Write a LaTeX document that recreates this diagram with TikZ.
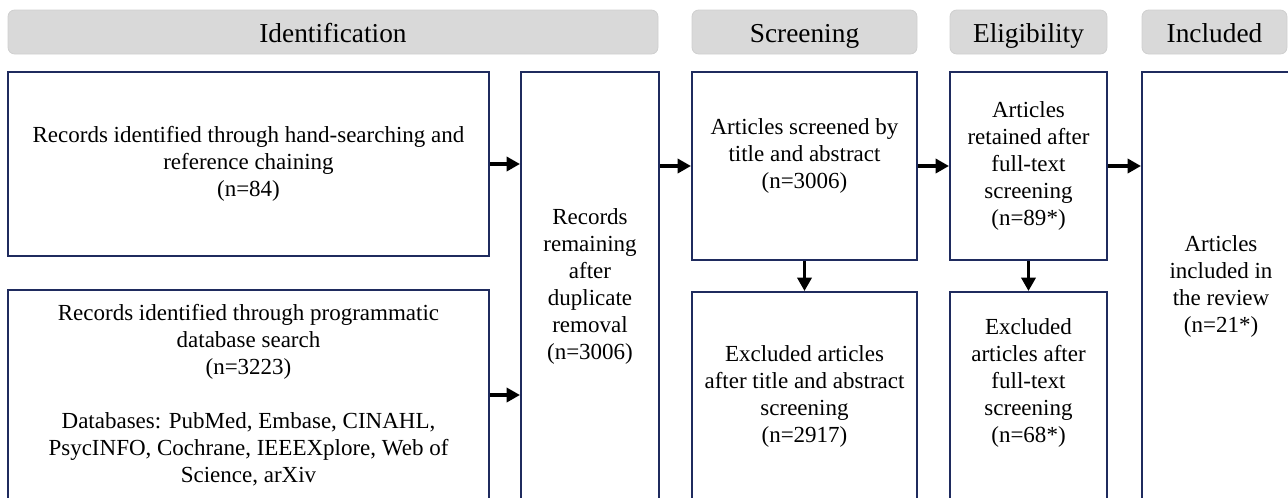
\documentclass[tikz,border=0pt]{standalone}
\usepackage{fontspec}
\setmainfont{Liberation Serif}
\usetikzlibrary{arrows.meta}
\definecolor{navy}{HTML}{1F2B5E}
\definecolor{hdrfill}{HTML}{D9D9D9}
\definecolor{hdrline}{HTML}{CFCFCF}
\newcommand{\bodyfnt}{\fontsize{17.25}{20.25}\selectfont}
\newcommand{\hdrfnt}{\fontsize{20.5}{24}\selectfont}
\begin{document}
\begin{tikzpicture}[x=0.75pt,y=-0.75pt,
  box/.style={draw=navy, line width=1.5pt, inner sep=0pt, align=center, font=\bodyfnt, fill=white},
  txt/.style={inner sep=0pt, align=center, font=\bodyfnt},
  hdr/.style={draw=hdrline, fill=hdrfill, line width=0.6pt, rounded corners=5pt, inner sep=0pt, font=\hdrfnt, minimum height=33pt, text height=15.5pt, text depth=0pt},
  flow/.style={line width=2.7pt, -{Triangle[length=10pt,width=10.5pt]}}
]
\useasboundingbox (0,0) rectangle (1288,497);
\clip (0,0) rectangle (1288,497);
% headers
\node[hdr, minimum width=487.5pt] (h1) at (333,32) {Identification};
\node[hdr, minimum width=168.75pt] (h2) at (804.5,32) {Screening};
\node[hdr, minimum width=117.75pt] (h3) at (1028.5,32) {Eligibility};
\node[hdr, minimum width=108.75pt] (h4) at (1214.5,32) {Included};
% boxes
\node[box, minimum width=360.75pt, minimum height=138pt] (A) at (248.5,164)
  {Records identified through hand-searching and\\reference chaining\\(n=84)};
\node[box, minimum width=360.75pt, minimum height=157.5pt] (B) at (248.5,395)
  {Records identified through programmatic\\database search\\(n=3223)\\[20.25pt]Databases: PubMed, Embase, CINAHL,\\PsycINFO, Cochrane, IEEEXplore, Web of\\Science, arXiv};
\node[box, minimum width=103.5pt, minimum height=321pt] (C) at (590,286)
  {Records\\remaining\\after\\duplicate\\removal\\(n=3006)};
\node[box, minimum width=168.75pt, minimum height=141pt] (D) at (804.5,166) {};
\node[txt] (Dt) at (804.5,156) {Articles screened by\\title and abstract\\(n=3006)};
\node[box, minimum width=117.75pt, minimum height=141pt] (E) at (1028.5,166)
  {Articles\\retained after\\full-text\\screening\\(n=89*)};
\node[box, minimum width=118.5pt, minimum height=321pt] (F) at (1221,286)
  {Articles\\included in\\the review\\(n=21*)};
\node[box, minimum width=168.75pt, minimum height=156pt] (G) at (804.5,396)
  {Excluded articles\\after title and abstract\\screening\\(n=2917)};
\node[box, minimum width=117.75pt, minimum height=156pt] (H) at (1028.5,396) {};
\node[txt] (Ht) at (1028.5,383) {Excluded\\articles after\\full-text\\screening\\(n=68*)};
% connectors
\draw[flow] (A.east) -- (A.east -| C.west);
\draw[flow] (B.east) -- (B.east -| C.west);
\draw[flow] (C.east |- D.west) -- (D.west);
\draw[flow] (D.east) -- (E.west);
\draw[flow] (E.east) -- (E.east -| F.west);
\draw[flow] (D.south) -- (G.north);
\draw[flow] (E.south) -- (H.north);
\end{tikzpicture}
\end{document}
